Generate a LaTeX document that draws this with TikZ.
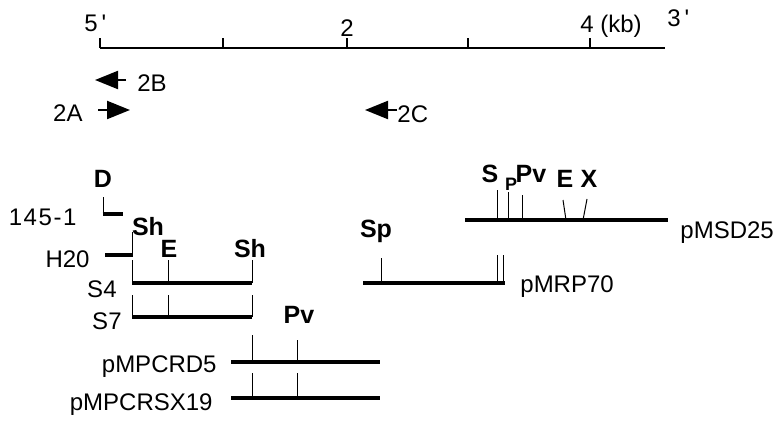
\documentclass[tikz,border=0pt]{standalone}
\usepackage{fontspec}
\setsansfont{Liberation Sans}
\usetikzlibrary{arrows.meta}

\begin{document}
\begin{tikzpicture}[x=0.5pt, y=-0.5pt,
    every node/.style={font=\sffamily\fontsize{12}{14}\selectfont, inner sep=0pt},
    site/.style={font=\sffamily\bfseries\fontsize{12.5}{14}\selectfont, anchor=base},
    smallsite/.style={font=\sffamily\bfseries\fontsize{9}{10}\selectfont, anchor=base},
    clone/.style={anchor=base east},
    plasmid/.style={anchor=base west},
    bar/.style={line width=2pt},
    cut/.style={line width=0.5pt},
    scale line/.style={line width=0.7pt},
    primer/.style={line width=1.1pt, -{Triangle[length=11.5pt, width=9pt]}}]
  \useasboundingbox (0,0) rectangle (779,422);

  % scale in kb
  \draw[scale line] (100,48) -- (665,48);
  \foreach \x in {100,223,347,468,590}
    \draw[scale line] (\x,48) -- (\x,38);
  \node[anchor=base west] (end5) at (84,32) {5\,\textquotesingle};
  \node[anchor=base] (kb2) at (347,37) {2};
  \node[anchor=base west] (kb4) at (580,33) {4 (kb)};
  \node[anchor=base west] (end3) at (667,27) {3\,\textquotesingle};

  % primers
  \coordinate (p2Bs) at (126,80);  \coordinate (p2Be) at (95,80);
  \coordinate (p2As) at (98,110);  \coordinate (p2Ae) at (130,110);
  \coordinate (p2Cs) at (397,110); \coordinate (p2Ce) at (365,110);
  \draw[primer] (p2Bs) -- (p2Be);
  \draw[primer] (p2As) -- (p2Ae);
  \draw[primer] (p2Cs) -- (p2Ce);
  \node[anchor=base west] (l2B) at (137,92) {2B};
  \node[anchor=base east] (l2A) at (83,122) {2A};
  \node[anchor=base west] (l2C) at (397,123) {2C};

  % 145-1
  \node[site] (sD) at (103,187) {D};
  \draw[cut] (103,197) -- (103,214);
  \draw[bar] (102.5,214) -- (123,214);
  \node[clone] (c145) at (77,225) {1\kern0.8pt4\kern0.8pt5\kern0.8pt-\kern0.8pt1};

  % H20
  \draw[bar] (105,255) -- (132.5,255);
  \draw[cut] (132,232) -- (132,255);
  \node[site] (sSh1) at (148,235) {Sh};
  \node[clone] (cH20) at (90,267) {H20};

  % S4
  \draw[bar] (132,283) -- (252,283);
  \foreach \x in {132,168,252}
    \draw[cut] (\x,260) -- (\x,283);
  \node[site] (sE1) at (169,257) {E};
  \node[site] (sSh2) at (250,257) {Sh};
  \node[clone] (cS4) at (117,297) {S4};

  % S7
  \draw[bar] (132,317) -- (252,317);
  \foreach \x in {132,168,252}
    \draw[cut] (\x,295) -- (\x,317);
  \node[clone] (cS7) at (122,329) {S7};

  % pMPCRD5 and pMPCRSX19
  \node[site] (sPv1) at (299,323) {Pv};
  \draw[bar] (231,362) -- (380,362);
  \draw[cut] (252,335) -- (252,362);
  \draw[cut] (297,340) -- (297,362);
  \node[clone] (cD5) at (217,372) {pMPCRD5};
  \draw[bar] (231,398) -- (380,398);
  \draw[cut] (252,373) -- (252,398);
  \draw[cut] (297,373) -- (297,398);
  \node[clone] (cSX19) at (213,410) {pMPCRSX19};

  % pMSD25
  \draw[bar] (465,220) -- (668,220);
  \draw[cut] (497,190) -- (497,220);
  \draw[cut] (508,192) -- (508,220);
  \draw[cut] (522,195) -- (522,220);
  \draw[cut] (563,200) -- (566,220);
  \draw[cut] (587,199) -- (583,220);
  \node[site] (sS) at (490,182) {S};
  \node[smallsite] (sP) at (511,190) {P};
  \node[site] (sPv2) at (531,182) {Pv};
  \node[site] (sE2) at (565,187) {E};
  \node[site] (sX) at (589,187) {X};
  \node[plasmid] (cMSD) at (680,238) {pMSD25};

  % pMRP70
  \draw[bar] (363,283) -- (505,283);
  \draw[cut] (381,258) -- (381,283);
  \draw[cut] (497,255) -- (497,283);
  \draw[cut] (503,255) -- (503,283);
  \node[site] (sSp) at (376,237) {Sp};
  \node[plasmid] (cMRP) at (520,292) {pMRP70};
\end{tikzpicture}
\end{document}
